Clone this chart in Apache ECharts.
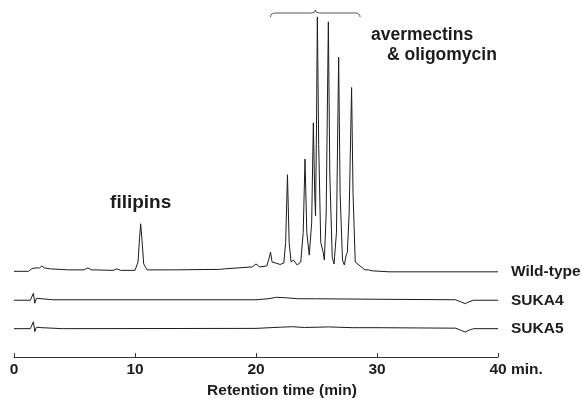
<!DOCTYPE html>
<html><head><meta charset="utf-8">
<script src="https://cdn.jsdelivr.net/npm/echarts@6/dist/echarts.min.js"></script>
<style>html,body{margin:0;padding:0;background:#fff}#c{width:582px;height:404px}</style>
</head><body><div id="c"></div>
<script>
// ---- data (retention time in min, detector response above each trace's baseline, arbitrary units)
const traceNames = ['Wild-type', 'SUKA4', 'SUKA5'];
const wildType = [
  [0,0.5],[1.2,0.5],[1.45,3],[1.6,2],[1.75,4],[1.9,3],[2.1,4],[2.3,6],[2.5,4],[3.0,3],[4.5,2],
  [5.8,2],[6.1,4],[6.4,2],[8.2,1.5],[8.5,3],[8.8,1.5],[10.0,1.5],[10.25,10],[10.38,35],[10.47,49],
  [10.58,32],[10.72,8],[11.0,2],[13.0,2],[13.1,3],[13.3,2],[17.0,2.5],[17.15,4],[17.4,3],
  [19.7,5],[20.0,8],[20.3,5],[20.9,6],[21.08,14],[21.2,20],[21.33,10],[21.6,9],[22.0,7.5],
  [22.3,9],[22.45,30],[22.6,99],[22.74,30],[22.9,10],[23.1,12],[23.4,7],[23.7,10],[23.9,40],
  [24.05,115],[24.2,40],[24.4,17],[24.6,50],[24.74,152],[24.85,80],[24.92,57],[25.0,150],
  [25.07,260],[25.18,130],[25.35,30],[25.55,20],[25.65,12],[25.8,60],[25.98,255],[26.1,100],
  [26.3,15],[26.45,8],[26.65,40],[26.83,219],[26.95,80],[27.15,12],[27.3,7],[27.45,17],
  [27.55,20],[27.7,60],[27.9,188],[28.02,80],[28.2,10],[28.6,6],[29.0,2],[29.3,2],[29.45,4],
  [29.6,1],[31,0],[40,0]
];
const suka4 = [
  [0,0],[1.35,0],[1.5,-2],[1.6,7],[1.72,-3],[1.85,2],[2.3,1.5],[3.2,0.5],[20,0.5],[21,1.5],
  [21.7,3],[22.5,2.5],[23.5,1.5],[25,1.5],[30,1],[36.5,0.5],[37.0,-2],[37.3,-3.5],[37.6,-1.5],
  [38,0],[40,0]
];
const suka5 = [
  [0,0],[1.35,0],[1.5,-2],[1.6,7],[1.72,-3],[1.85,1.5],[2.3,1],[4,0],[20,0.3],[22,1.5],
  [23,2],[24,1.2],[26,1.8],[28,1],[30,1],[36.5,0.5],[37.0,-2],[37.3,-3.5],[37.6,-1.5],[38,0],[40,0]
];
const xTicks = [0, 10, 20, 30, 40];
const annoFilipins = {text: 'filipins', time: 10.47};
const annoAvermectins = {lines: ['avermectins', '& oligomycin'], from: 21.2, to: 28.6};

// ---- layout
const traceOffsets = [87, 58, 29];
const FONT = '"Liberation Sans", Arial, Helvetica, sans-serif';
const INK = '#1c1c1c';

const chart = echarts.init(document.getElementById('c'), null, {renderer: 'canvas'});
const traces = [wildType, suka4, suka5];

chart.setOption({
  animation: false,
  backgroundColor: '#fff',
  grid: {left: 14, right: 84, top: 14, bottom: 40, containLabel: false},
  xAxis: {
    type: 'value', min: xTicks[0], max: xTicks[xTicks.length - 1], interval: xTicks[1] - xTicks[0],
    axisLine: {lineStyle: {color: '#333', width: 1}},
    axisTick: {inside: true, length: 4, lineStyle: {color: '#333', width: 1}},
    splitLine: {show: false},
    axisLabel: {fontSize: 15.5, fontWeight: 'bold', color: INK, fontFamily: FONT, margin: 5},
    name: 'Retention time (min)', nameLocation: 'middle', nameGap: 20,
    nameTextStyle: {fontSize: 15.5, fontWeight: 'bold', color: INK, fontFamily: FONT, padding: [0, 0, 0, 52]}
  },
  yAxis: {type: 'value', min: 0, max: 350, show: false},
  series: traces.map((d, i) => ({
    type: 'line', name: traceNames[i], showSymbol: false, symbol: 'none', silent: true,
    data: d.map(p => [p[0], p[1] + traceOffsets[i]]),
    lineStyle: {color: INK, width: 1},
    endLabel: {show: true, formatter: traceNames[i], distance: 13, fontSize: 15.5,
      fontWeight: 'bold', color: INK, fontFamily: FONT}
  }))
});

function px(t, v) { return chart.convertToPixel({gridIndex: 0}, [t, v]); }
const end = px(xTicks[xTicks.length - 1], 0);
const fp = px(annoFilipins.time, 157);
const b0 = px(annoAvermectins.from, 0), b1 = px(annoAvermectins.to, 0);
const bx0 = b0[0], bx1 = b1[0], bm = (bx0 + bx1) / 2;
const by = 13;
const braceStyle = {fill: null, stroke: '#555', lineWidth: 1};
function curve(x1, y1, cx, cy, x2, y2) {
  return {type: 'bezierCurve', shape: {x1, y1, x2, y2, cpx1: cx, cpy1: cy}, style: braceStyle};
}
function seg(x1, y1, x2, y2) {
  return {type: 'line', shape: {x1, y1, x2, y2}, style: braceStyle};
}
chart.setOption({
  graphic: [
    {type: 'text', x: end[0] + 13, y: end[1] + 13, style: {text: 'min.', font: 'bold 15.5px ' + FONT, fill: INK, align: 'left', verticalAlign: 'middle'}},
    {type: 'text', x: fp[0], y: fp[1], style: {text: annoFilipins.text, font: 'bold 19px ' + FONT, fill: INK, align: 'center', verticalAlign: 'middle'}},
    {type: 'text', x: 371, y: 35, style: {text: annoAvermectins.lines[0], font: 'bold 17.5px ' + FONT, fill: INK, align: 'left', verticalAlign: 'middle'}},
    {type: 'text', x: 387, y: 55, style: {text: annoAvermectins.lines[1], font: 'bold 17.5px ' + FONT, fill: INK, align: 'left', verticalAlign: 'middle'}},
    curve(bx0, by + 4, bx0, by, bx0 + 5, by),
    seg(bx0 + 5, by, bm - 4, by),
    curve(bm - 4, by, bm, by, bm, by - 3),
    curve(bm, by - 3, bm, by, bm + 4, by),
    seg(bm + 4, by, bx1 - 5, by),
    curve(bx1 - 5, by, bx1, by, bx1, by + 4)
  ]
});
</script>
</body></html>
